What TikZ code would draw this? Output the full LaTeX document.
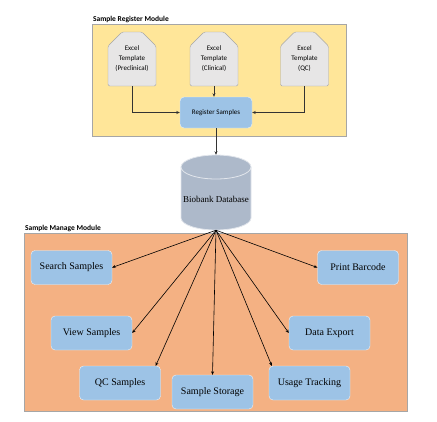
\documentclass[tikz,border=0pt]{standalone}
\usepackage{fontspec}
\setmainfont{Liberation Serif}
\newfontfamily\calibri{Carlito}
\usepackage{tikz}
\usetikzlibrary{arrows.meta,shapes.misc,positioning}
\definecolor{regbg}{HTML}{FFE699}
\definecolor{manbg}{HTML}{F4B183}
\definecolor{tplbg}{HTML}{E7E6E6}
\definecolor{taskbg}{HTML}{9DC3E6}
\definecolor{dbbg}{HTML}{ADB9CA}
\definecolor{rimgray}{HTML}{A6A6A6}

\begin{document}
\begin{tikzpicture}[x=1pt, y=-1pt,
      panel/.style={rectangle, draw=rimgray, inner sep=0pt},
      title/.style={font=\calibri\bfseries\fontsize{7.5}{9}\selectfont, inner sep=1pt},
      tpl/.style={
        chamfered rectangle, chamfered rectangle corners={north west, north east},
        chamfered rectangle xsep=7pt, chamfered rectangle ysep=7pt,
        draw=rimgray, fill=tplbg, rounded corners=1.5pt,
        minimum width=48, minimum height=54, inner sep=0pt,
        align=center, font=\calibri\fontsize{7}{10}\selectfont
      },
      task/.style={
        rectangle, rounded corners=4pt, draw=white!80!taskbg, fill=taskbg,
        minimum width=81, minimum height=34, inner sep=0pt,
        font=\fontsize{10}{12}\selectfont
      },
      dbrim/.style={draw=white!65!dbbg, line width=0.8pt},
      link/.style={-{Stealth[length=3.5pt, width=3pt]}, draw=black!80, line width=0.7pt},
      fan/.style={-{Stealth[length=3.5pt, width=3pt]}, line width=0.6pt}
    ]
      \useasboundingbox (0,0) rectangle (437,421);

      \node[panel, fill=regbg, minimum width=254, minimum height=112] (regpanel) at (219,80){};
      \node[title, anchor=south west] at (regpanel.north west){Sample Register Module};
      \node[panel, fill=manbg, minimum width=383, minimum height=178] (manpanel) at (215.5,322){};
      \node[title, anchor=south west] at (manpanel.north west){Sample Manage Module};

      \foreach \nm/\x/\txt in {tpre/132/Preclinical,tcli/214/Clinical,tqc/304.5/QC} {
        \node[tpl] (\nm) at (\x,59){Excel\\Template\\(\txt)};
      }
      \node[task, font=\calibri\fontsize{7}{8}\selectfont, minimum width=72, minimum height=31]
        (reg) at (216,112.5){Register Samples};

      % database drum
      \node[minimum width=70, minimum height=75, inner sep=0pt] (db) at (216,192.5){};
      \path[dbrim, fill=dbbg] (181,167) -- (181,218)
        arc[start angle=180, end angle=0, x radius=35, y radius=12] -- (251,167)
        arc[start angle=0, end angle=-180, x radius=35, y radius=12] -- cycle;
      \draw[dbrim] (181,167) arc[start angle=180, end angle=0, x radius=35, y radius=12];
      \node[font=\fontsize{9}{11}\selectfont] (dblabel) at (216,199){Biobank Database};

      \foreach \nm/\x/\y/\txt in {search/71.5/267.5/Search Samples,
          print/358/267.5/Print Barcode, view/91.5/333/View Samples,
          export/329.5/333/Data Export, qc/120/383/QC Samples,
          storage/212.5/392/Sample Storage, usage/309.5/383/Usage Tracking} {
        \node[task] (\nm) at (\x,\y){\txt};
      }

      \draw[link] (tpre.south) |- (reg.west);
      \draw[link] (tcli.south) -- (tcli.south |- reg.north);
      \draw[link] (tqc.south) |- (reg.east);
      \draw[link] (reg.south) -- (db.north);

      \foreach \tgt in {search.east,print.west,view.east,export.west,storage.north} {
        \draw[fan] (db.south) -- (\tgt);
      }
      \draw[fan] (db.south) -- ([xshift=-5pt]qc.north east);
      \draw[fan] (db.south) -- ([xshift=3pt]usage.north west);
    \end{tikzpicture}
\end{document}
